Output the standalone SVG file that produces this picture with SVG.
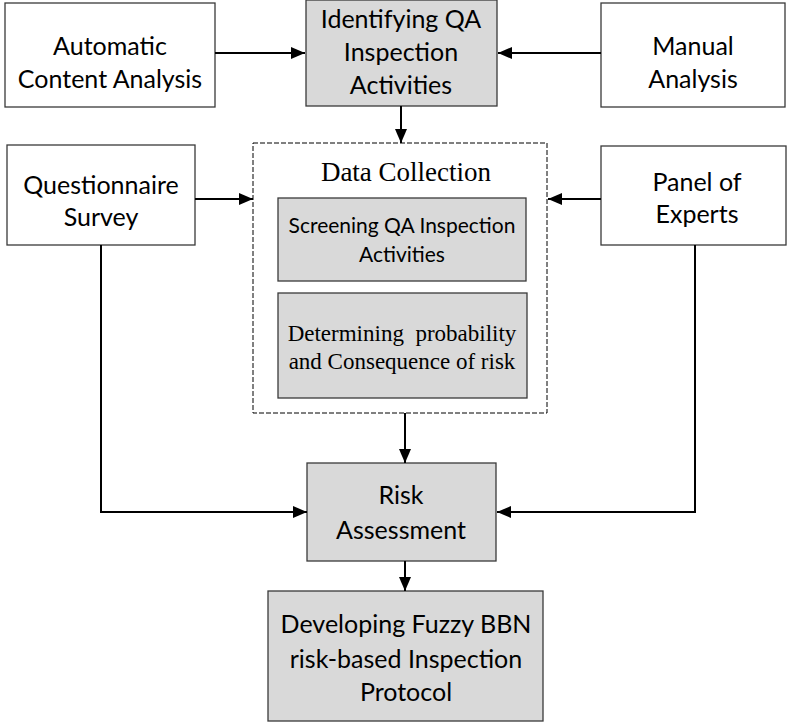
<svg xmlns="http://www.w3.org/2000/svg" width="789" height="723" viewBox="0 0 789 723">
  <style>
    .box { fill: #ffffff; stroke: #3a3a3a; stroke-width: 1.3; }
    .grey { fill: #d9d9d9; stroke: #3a3a3a; stroke-width: 1.3; }
    .dash { fill: #ffffff; stroke: #000000; stroke-width: 1; stroke-dasharray: 5 2; }
    .sans { font-family: Lato, "Liberation Sans", sans-serif; fill: #000000; text-anchor: middle; font-size: 25px; }
    .serif { font-family: "Liberation Serif", "Times New Roman", serif; fill: #000000; text-anchor: middle; }
    .link { fill: none; stroke: #000000; stroke-width: 2; }
  </style>
  <defs>
    <marker id="arrow" viewBox="0 0 14 12" refX="14" refY="6" markerWidth="14" markerHeight="12" markerUnits="userSpaceOnUse" orient="auto">
      <path d="M0,0 L14,6 L0,12 Z" fill="#000000"/>
    </marker>
  </defs>
  <rect width="789" height="723" fill="#ffffff"/>

  <g id="automatic-content-analysis">
    <rect class="box" x="5" y="3" width="210" height="104"/>
    <text class="sans" x="110" y="55">Automatic</text>
    <text class="sans" x="110" y="88">Content Analysis</text>
  </g>

  <g id="identifying-qa">
    <rect class="grey" x="306" y="0" width="191" height="106"/>
    <text class="sans" x="401" y="28">Identifying QA</text>
    <text class="sans" x="401" y="61">Inspection</text>
    <text class="sans" x="401" y="94">Activities</text>
  </g>

  <g id="manual-analysis">
    <rect class="box" x="601" y="3" width="184" height="104"/>
    <text class="sans" x="693" y="55">Manual</text>
    <text class="sans" x="693" y="88">Analysis</text>
  </g>

  <g id="questionnaire-survey">
    <rect class="box" x="7" y="145" width="188" height="100"/>
    <text class="sans" x="101" y="194">Questionnaire</text>
    <text class="sans" x="101" y="226">Survey</text>
  </g>

  <g id="panel-of-experts">
    <rect class="box" x="601" y="146" width="185" height="99"/>
    <text class="sans" x="697" y="191">Panel of</text>
    <text class="sans" x="697" y="223">Experts</text>
  </g>

  <g id="data-collection">
    <rect class="dash" x="253" y="143" width="294" height="270"/>
    <text class="serif" x="406" y="181" font-size="27">Data Collection</text>
    <g id="screening-qa">
      <rect class="grey" x="278" y="198" width="248" height="83"/>
      <text class="sans" x="402" y="233" style="font-size:21px">Screening QA Inspection</text>
      <text class="sans" x="402" y="262" style="font-size:21px">Activities</text>
    </g>
    <g id="determining-risk">
      <rect class="grey" x="278" y="293" width="249" height="105"/>
      <text class="serif" x="402" y="341" font-size="23" xml:space="preserve">Determining  probability</text>
      <text class="serif" x="402" y="369" font-size="23">and Consequence of risk</text>
    </g>
  </g>

  <g id="risk-assessment">
    <rect class="grey" x="307" y="463" width="189" height="98"/>
    <text class="sans" x="401" y="504">Risk</text>
    <text class="sans" x="401" y="539">Assessment</text>
  </g>

  <g id="fuzzy-bbn-protocol">
    <rect class="grey" x="268" y="591" width="275" height="130"/>
    <text class="sans" x="406" y="633">Developing Fuzzy BBN</text>
    <text class="sans" x="406" y="668">risk-based Inspection</text>
    <text class="sans" x="406" y="701">Protocol</text>
  </g>

  <g id="connectors">
    <path class="link" d="M215,53 H305" marker-end="url(#arrow)"/>
    <path class="link" d="M601,53 H498" marker-end="url(#arrow)"/>
    <path class="link" d="M401,106 V143" marker-end="url(#arrow)"/>
    <path class="link" d="M195,199 H253" marker-end="url(#arrow)"/>
    <path class="link" d="M601,199 H548" marker-end="url(#arrow)"/>
    <path class="link" d="M405,413 V463" marker-end="url(#arrow)"/>
    <path class="link" d="M101,245 V512 H307" marker-end="url(#arrow)"/>
    <path class="link" d="M695,245 V512 H497" marker-end="url(#arrow)"/>
    <path class="link" d="M405,561 V591" marker-end="url(#arrow)"/>
  </g>
</svg>
